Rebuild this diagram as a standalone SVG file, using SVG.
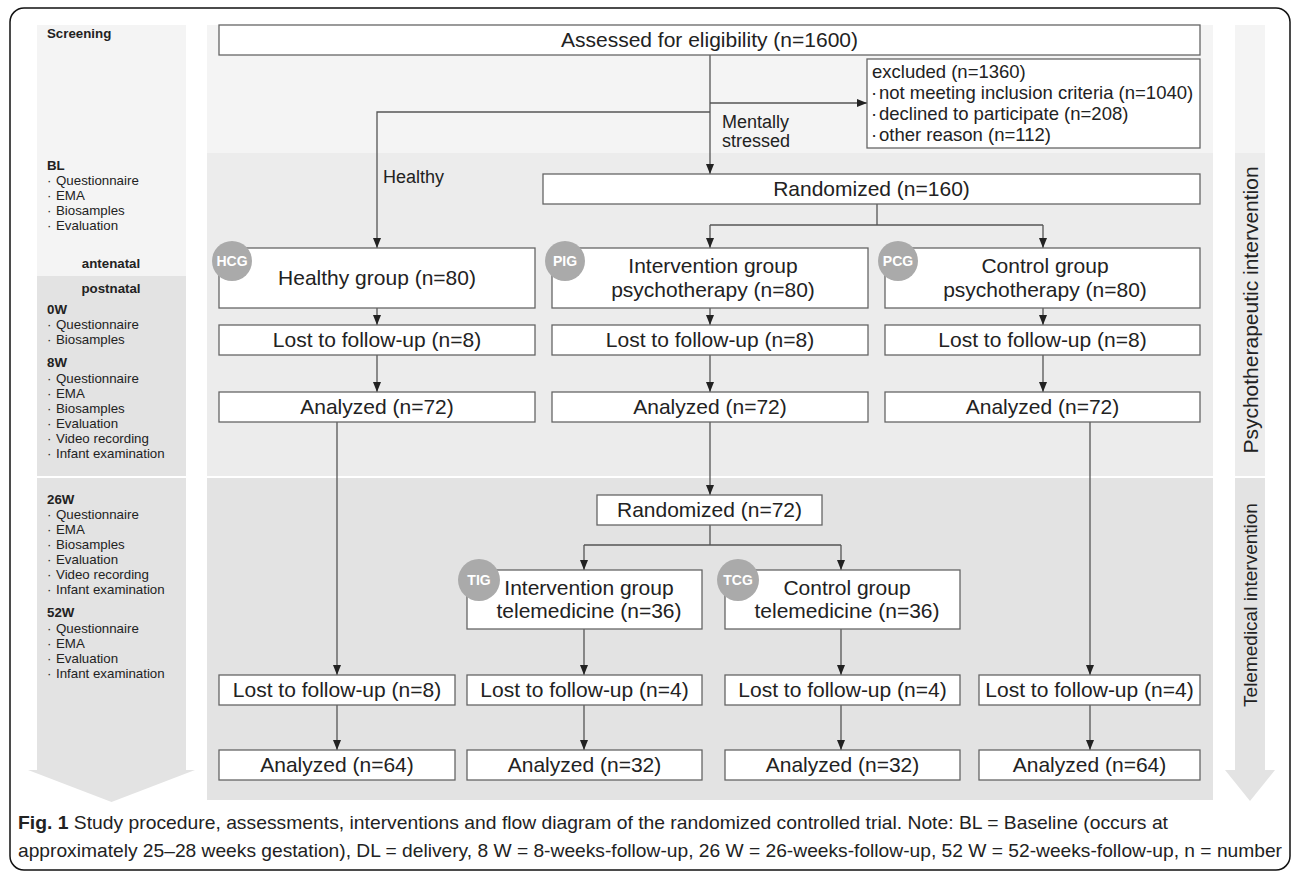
<svg xmlns="http://www.w3.org/2000/svg" width="1292" height="871" viewBox="0 0 1292 871">
<defs>
<marker id="ah" markerUnits="userSpaceOnUse" viewBox="0 0 10 8" markerWidth="10" markerHeight="8" refX="10" refY="4" orient="auto">
<path d="M0,0 L10,4 L0,8 z" fill="#222"/>
</marker>
<style>
.box{fill:#fff;stroke:#666;stroke-width:1.3}
.t{font-family:"Liberation Sans",Arial,sans-serif;font-size:21px;fill:#222;text-anchor:middle}
.lbl{font-family:"Liberation Sans",Arial,sans-serif;font-size:18px;fill:#222}
.side{font-family:"Liberation Sans",Arial,sans-serif;font-size:13.3px;fill:#222}
.sb{font-weight:bold}
.badge{fill:#aaa}
.bt{font-family:"Liberation Sans",Arial,sans-serif;font-size:14px;font-weight:bold;fill:#fff;text-anchor:middle}
.rot{font-family:"Liberation Sans",Arial,sans-serif;font-size:21px;fill:#222;text-anchor:middle}
.cn{fill:none;stroke:#555;stroke-width:1.3}
.cap{font-family:"Liberation Sans",Arial,sans-serif;font-size:19px;fill:#222}
</style>
</defs>
<rect x="0" y="0" width="1292" height="871" fill="#fff"/>
<rect x="10" y="8" width="1280" height="862" rx="14" fill="none" stroke="#111" stroke-width="1.5"/>

<g id="bands">
<rect x="207" y="25" width="1006" height="128" fill="#f4f4f4"/>
<rect x="207" y="153" width="1006" height="323" fill="#ececec"/>
<rect x="207" y="478" width="1006" height="322" fill="#e3e3e3"/>
</g>

<g id="sidebar">
<rect x="37" y="25" width="149" height="251" fill="#f4f4f4"/>
<rect x="37" y="276" width="149" height="200" fill="#e3e3e3"/>
<rect x="37" y="478" width="149" height="292" fill="#e3e3e3"/>
<polygon points="28,770 195,770 111.5,802" fill="#e3e3e3"/>
<g class="side">
<text x="47" y="38" class="sb">Screening</text>
<text x="47" y="170" class="sb">BL</text>
<text x="47" y="185">·<tspan x="56">Questionnaire</tspan></text>
<text x="47" y="200">·<tspan x="56">EMA</tspan></text>
<text x="47" y="215">·<tspan x="56">Biosamples</tspan></text>
<text x="47" y="230">·<tspan x="56">Evaluation</tspan></text>
<text x="111" y="268" class="sb" text-anchor="middle">antenatal</text>
<text x="111" y="293" class="sb" text-anchor="middle">postnatal</text>
<text x="47" y="314" class="sb">0W</text>
<text x="47" y="329">·<tspan x="56">Questionnaire</tspan></text>
<text x="47" y="344">·<tspan x="56">Biosamples</tspan></text>
<text x="47" y="367" class="sb">8W</text>
<text x="47" y="383">·<tspan x="56">Questionnaire</tspan></text>
<text x="47" y="398">·<tspan x="56">EMA</tspan></text>
<text x="47" y="413">·<tspan x="56">Biosamples</tspan></text>
<text x="47" y="428">·<tspan x="56">Evaluation</tspan></text>
<text x="47" y="443">·<tspan x="56">Video recording</tspan></text>
<text x="47" y="458">·<tspan x="56">Infant examination</tspan></text>
<text x="47" y="504" class="sb">26W</text>
<text x="47" y="519">·<tspan x="56">Questionnaire</tspan></text>
<text x="47" y="534">·<tspan x="56">EMA</tspan></text>
<text x="47" y="549">·<tspan x="56">Biosamples</tspan></text>
<text x="47" y="564">·<tspan x="56">Evaluation</tspan></text>
<text x="47" y="579">·<tspan x="56">Video recording</tspan></text>
<text x="47" y="594">·<tspan x="56">Infant examination</tspan></text>
<text x="47" y="617" class="sb">52W</text>
<text x="47" y="633">·<tspan x="56">Questionnaire</tspan></text>
<text x="47" y="648">·<tspan x="56">EMA</tspan></text>
<text x="47" y="663">·<tspan x="56">Evaluation</tspan></text>
<text x="47" y="678">·<tspan x="56">Infant examination</tspan></text>
</g>
</g>

<g id="rightcol">
<rect x="1235" y="25" width="30" height="128" fill="#f4f4f4"/>
<rect x="1235" y="153" width="30" height="323" fill="#ececec"/>
<rect x="1235" y="478" width="30" height="292" fill="#e3e3e3"/>
<polygon points="1225,770 1275,770 1250,801" fill="#e3e3e3"/>
<text class="rot" transform="translate(1258,310) rotate(-90)">Psychotherapeutic intervention</text>
<text class="rot" style="font-size:19px" transform="translate(1257,605) rotate(-90)">Telemedical intervention</text>
</g>

<g id="connectors">
<path class="cn" d="M710,55 V174" marker-end="url(#ah)"/>
<path class="cn" d="M710,103 H867" marker-end="url(#ah)"/>
<path class="cn" d="M710,112 H377 V248" marker-end="url(#ah)"/>
<path class="cn" d="M877,204 V225 M710,225 H1043"/>
<path class="cn" d="M710,225 V248" marker-end="url(#ah)"/>
<path class="cn" d="M1043,225 V248" marker-end="url(#ah)"/>
<path class="cn" d="M377,308 V325" marker-end="url(#ah)"/>
<path class="cn" d="M710,308 V325" marker-end="url(#ah)"/>
<path class="cn" d="M1043,308 V325" marker-end="url(#ah)"/>
<path class="cn" d="M377,355 V392" marker-end="url(#ah)"/>
<path class="cn" d="M710,355 V392" marker-end="url(#ah)"/>
<path class="cn" d="M1043,355 V392" marker-end="url(#ah)"/>
<path class="cn" d="M337,422 V675" marker-end="url(#ah)"/>
<path class="cn" d="M710,422 V495" marker-end="url(#ah)"/>
<path class="cn" d="M1090,422 V675" marker-end="url(#ah)"/>
<path class="cn" d="M710,525 V545 M584,545 H841"/>
<path class="cn" d="M584,545 V570" marker-end="url(#ah)"/>
<path class="cn" d="M841,545 V570" marker-end="url(#ah)"/>
<path class="cn" d="M584,629 V675" marker-end="url(#ah)"/>
<path class="cn" d="M841,629 V675" marker-end="url(#ah)"/>
<path class="cn" d="M337,705 V750" marker-end="url(#ah)"/>
<path class="cn" d="M584,705 V750" marker-end="url(#ah)"/>
<path class="cn" d="M841,705 V750" marker-end="url(#ah)"/>
<path class="cn" d="M1090,705 V750" marker-end="url(#ah)"/>
<text class="lbl" x="383" y="183">Healthy</text>
<text class="lbl" x="722" y="128">Mentally</text>
<text class="lbl" x="722" y="147">stressed</text>
</g>

<g id="assessed"><rect class="box" x="219" y="25" width="981" height="30"/><text class="t" x="709.5" y="47">Assessed for eligibility (n=1600)</text></g>
<g id="excluded"><rect class="box" x="867" y="59" width="333" height="89"/>
<text class="lbl" style="font-size:18.5px" x="872" y="78">excluded (n=1360)</text>
<text class="lbl" style="font-size:18.5px" x="871" y="99">·<tspan x="879">not meeting inclusion criteria (n=1040)</tspan></text>
<text class="lbl" style="font-size:18.5px" x="871" y="120">·<tspan x="879">declined to participate (n=208)</tspan></text>
<text class="lbl" style="font-size:18.5px" x="871" y="141">·<tspan x="879">other reason (n=112)</tspan></text>
</g>
<g id="randomized160"><rect class="box" x="543" y="174" width="657" height="30"/><text class="t" x="871.5" y="196">Randomized (n=160)</text></g>

<g id="hcg"><rect class="box" x="219" y="248" width="316" height="60"/><text class="t" x="377" y="285">Healthy group (n=80)</text><circle class="badge" cx="232" cy="261" r="20"/><text class="bt" x="232" y="266">HCG</text></g>
<g id="pig"><rect class="box" x="552" y="248" width="316" height="60"/><text class="t" x="713" y="273">Intervention group</text><text class="t" x="713" y="297">psychotherapy (n=80)</text><circle class="badge" cx="565" cy="261" r="20"/><text class="bt" x="565" y="266">PIG</text></g>
<g id="pcg"><rect class="box" x="885" y="248" width="315" height="60"/><text class="t" x="1045" y="273">Control group</text><text class="t" x="1045" y="297">psychotherapy (n=80)</text><circle class="badge" cx="898" cy="261" r="20"/><text class="bt" x="898" y="266">PCG</text></g>

<g id="lost-hcg"><rect class="box" x="219" y="325" width="316" height="30"/><text class="t" x="377" y="347">Lost to follow-up (n=8)</text></g>
<g id="lost-pig"><rect class="box" x="552" y="325" width="316" height="30"/><text class="t" x="710" y="347">Lost to follow-up (n=8)</text></g>
<g id="lost-pcg"><rect class="box" x="885" y="325" width="315" height="30"/><text class="t" x="1042.5" y="347">Lost to follow-up (n=8)</text></g>

<g id="an-hcg"><rect class="box" x="219" y="392" width="316" height="30"/><text class="t" x="377" y="414">Analyzed (n=72)</text></g>
<g id="an-pig"><rect class="box" x="552" y="392" width="316" height="30"/><text class="t" x="710" y="414">Analyzed (n=72)</text></g>
<g id="an-pcg"><rect class="box" x="885" y="392" width="315" height="30"/><text class="t" x="1042.5" y="414">Analyzed (n=72)</text></g>

<g id="randomized72"><rect class="box" x="597" y="495" width="225" height="30"/><text class="t" x="709.5" y="517">Randomized (n=72)</text></g>

<g id="tig"><rect class="box" x="467" y="570" width="235" height="59"/><text class="t" x="589" y="595">Intervention group</text><text class="t" x="589" y="618">telemedicine (n=36)</text><circle class="badge" cx="479" cy="580" r="21"/><text class="bt" x="479" y="585">TIG</text></g>
<g id="tcg"><rect class="box" x="725" y="570" width="235" height="59"/><text class="t" x="847" y="595">Control group</text><text class="t" x="847" y="618">telemedicine (n=36)</text><circle class="badge" cx="738" cy="580" r="21"/><text class="bt" x="738" y="585">TCG</text></g>

<g id="lost-hcg2"><rect class="box" x="219" y="675" width="236" height="30"/><text class="t" x="337" y="697">Lost to follow-up (n=8)</text></g>
<g id="lost-tig"><rect class="box" x="467" y="675" width="235" height="30"/><text class="t" x="584.5" y="697">Lost to follow-up (n=4)</text></g>
<g id="lost-tcg"><rect class="box" x="725" y="675" width="235" height="30"/><text class="t" x="842.5" y="697">Lost to follow-up (n=4)</text></g>
<g id="lost-pcg2"><rect class="box" x="979" y="675" width="221" height="30"/><text class="t" x="1089.5" y="697">Lost to follow-up (n=4)</text></g>

<g id="an-hcg2"><rect class="box" x="219" y="750" width="236" height="30"/><text class="t" x="337" y="772">Analyzed (n=64)</text></g>
<g id="an-tig"><rect class="box" x="467" y="750" width="235" height="30"/><text class="t" x="584.5" y="772">Analyzed (n=32)</text></g>
<g id="an-tcg"><rect class="box" x="725" y="750" width="235" height="30"/><text class="t" x="842.5" y="772">Analyzed (n=32)</text></g>
<g id="an-pcg2"><rect class="box" x="979" y="750" width="221" height="30"/><text class="t" x="1089.5" y="772">Analyzed (n=64)</text></g>

<g id="caption">
<text class="cap" x="18" y="829" textLength="1150" lengthAdjust="spacingAndGlyphs"><tspan font-weight="bold">Fig. 1</tspan> Study procedure, assessments, interventions and flow diagram of the randomized controlled trial. Note: BL = Baseline (occurs at</text>
<text class="cap" x="18" y="857" textLength="1264" lengthAdjust="spacingAndGlyphs">approximately 25–28 weeks gestation), DL = delivery, 8 W = 8-weeks-follow-up, 26 W = 26-weeks-follow-up, 52 W = 52-weeks-follow-up, n = number</text>
</g>
</svg>
